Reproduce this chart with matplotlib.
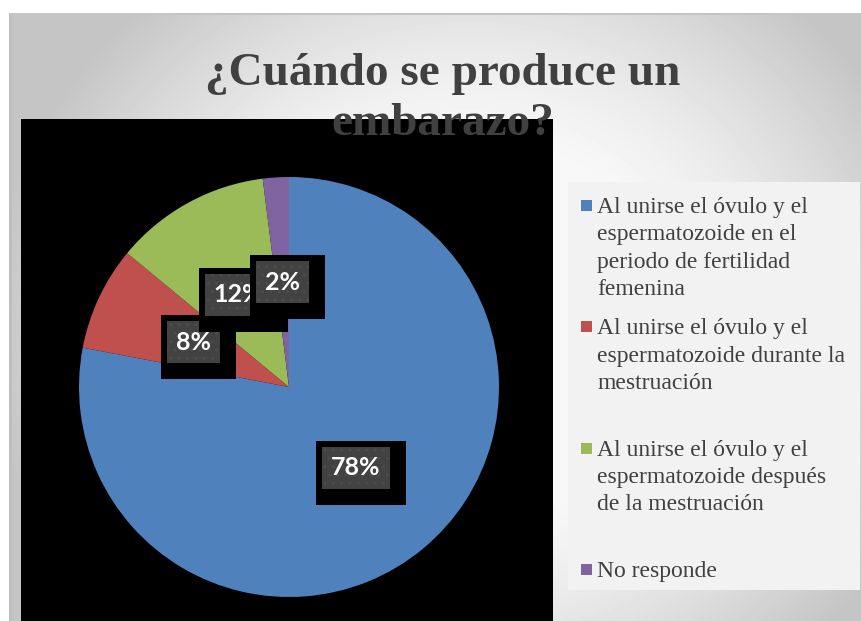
import numpy as np
import matplotlib
matplotlib.use("Agg")
import matplotlib.pyplot as plt
from matplotlib.patches import Rectangle
from matplotlib.transforms import IdentityTransform

# ---- data -------------------------------------------------------------
title_lines = ["¿Cuándo se produce un", "embarazo?"]
categories = [
    "Al unirse el óvulo y el\nespermatozoide en el\nperiodo de fertilidad\nfemenina",
    "Al unirse el óvulo y el\nespermatozoide durante la\nmestruación",
    "Al unirse el óvulo y el\nespermatozoide después\nde la mestruación",
    "No responde",
]
percentages = [78, 8, 12, 2]
colors = ["#4f81bd", "#c0504d", "#9bbb59", "#8064a2"]

# ---- figure -----------------------------------------------------------
W, H = 861, 621
fig = plt.figure(figsize=(W / 100, H / 100), dpi=100)
fig.patch.set_facecolor("white")

# background layer in pixel coordinates (y downwards)
bg = fig.add_axes([0, 0, 1, 1], zorder=0)
bg.axis("off")

sx0, sy0 = 9, 13
xs = np.arange(sx0, W) + 0.5
ys = np.arange(sy0, H) + 0.5
X, Y = np.meshgrid(xs, ys)
t = np.hypot((X - 470) / 460, (Y - 330) / 420)
ramp = np.clip((t - 0.45) / 0.6, 0, 1) ** 1.3
shade = 0.97 - 0.2 * ramp
bg.imshow(shade, cmap="gray", vmin=0, vmax=1, extent=(sx0, W, H, sy0),
          interpolation="bilinear", aspect="auto")
bg.add_patch(Rectangle((sx0, sy0), 3, H - sy0, facecolor="#bebebe", lw=0))
bg.add_patch(Rectangle((sx0, sy0), W - sx0, 2, facecolor="#c4c4c4", lw=0))

# black plot area
bg.add_patch(Rectangle((21, 119), 532, H - 119, facecolor="black", lw=0, zorder=3))

# legend panel
bg.add_patch(Rectangle((568, 182), 292, 408, facecolor="#f2f2f2", lw=0, zorder=3))
entry_step, line_step = 121.3, 27.3
for i, (label, col) in enumerate(zip(categories, colors)):
    base = 213 + entry_step * i
    bg.add_patch(Rectangle((580.5, base - 13), 11, 11, facecolor=col, lw=0, zorder=4))
    for k, line in enumerate(label.split("\n")):
        bg.text(597, base + line_step * k, line, ha="left", va="baseline",
                fontsize=17, family="Liberation Serif", color="#404040", zorder=5)

bg.set_xlim(0, W)
bg.set_ylim(H, 0)

# ---- pie --------------------------------------------------------------
ax = fig.add_axes([79 / W, (H - 597) / H, 420 / W, 420 / H], zorder=1)
ax.patch.set_alpha(0)
wedges, texts, autotexts = ax.pie(
    percentages, colors=colors, startangle=90, counterclock=False,
    autopct=lambda p: f"{p:.0f}%", pctdistance=0.5, radius=1,
    wedgeprops=dict(linewidth=0),
    textprops=dict(color="white", fontsize=18, fontweight="bold", family="Lato"),
)
ax.set_xlim(-1, 1)
ax.set_ylim(-1, 1)

# label boxes: dark tile on a black offset plate
fig.canvas.draw()
renderer = fig.canvas.get_renderer()
for i, txt in enumerate(autotexts):
    ext = txt.get_window_extent(renderer)
    cx, cy = ax.transData.transform(txt.get_position())
    w, h = ext.width + 18, 42
    gx0, gy0 = cx - w / 2, cy - h / 2
    ax.add_patch(Rectangle((gx0 - 6, gy0 - 16), w + 22, h + 22,
                           transform=IdentityTransform(), facecolor="black",
                           lw=0, zorder=4 + 3 * i, clip_on=False))
    ax.add_patch(Rectangle((gx0, gy0), w, h, transform=IdentityTransform(),
                           facecolor="#424242", edgecolor="#4c4c4c", hatch="..",
                           lw=0, zorder=5 + 3 * i, clip_on=False))
    txt.set_zorder(6 + 3 * i)

# ---- title ------------------------------------------------------------
for line, base in zip(title_lines, [85, 135]):
    fig.text(443 / W, 1 - base / H, line, ha="center", va="baseline",
             fontsize=34, fontweight="bold", family="Liberation Serif",
             color="#404040", zorder=10)

fig.savefig("out.png", dpi=100)
